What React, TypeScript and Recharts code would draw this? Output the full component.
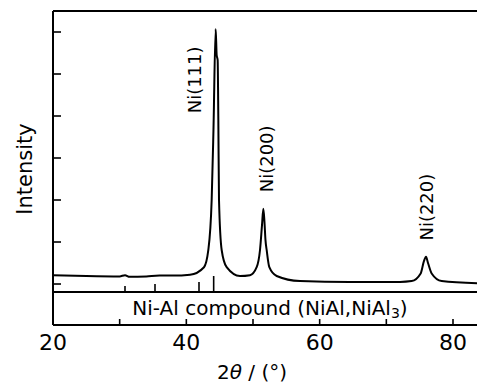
import React from "react";
import {
  ComposedChart,
  Line,
  XAxis,
  YAxis,
  ReferenceLine,
  ReferenceDot,
} from "recharts";

// 2θ (deg) and intensity (arbitrary units, 1 unit = one y tick)
const angle = [
  20, 25, 30, 30.8, 31.5, 34, 36, 38, 40.55, 42.65, 43.3, 43.8, 44.07, 44.4,
  44.55, 44.7, 44.8, 44.9, 45.3, 46.05, 48.05, 49.55, 50.55, 51.05, 51.35,
  51.55, 51.72, 51.87, 52.05, 52.45, 53.55, 57.05, 64.5, 72.05, 73.8, 75.15,
  75.65, 75.95, 76.25, 76.8, 78.3, 83.6,
];
const intensity = [
  0.21, 0.19, 0.18, 0.21, 0.17, 0.18, 0.2, 0.2, 0.22, 0.4, 0.81, 2.0, 3.67,
  6.07, 5.45, 5.33, 3.9, 2.0, 0.81, 0.4, 0.19, 0.21, 0.4, 0.81, 1.4, 1.79,
  1.48, 1.05, 0.81, 0.4, 0.19, 0.07, 0.05, 0.05, 0.07, 0.25, 0.55, 0.65, 0.5,
  0.25, 0.07, 0.02,
];

const xTicks = [20, 30, 40, 50, 60, 70, 80];
const xLabels = [20, 40, 60, 80];
const yTicks = [0, 1, 2, 3, 4, 5, 6];

// Ni-Al compound reference positions and stick heights
const compoundPos = [30.8, 35.3, 41.9, 44.1];
const compoundTop = [-0.05, 0.0, 0.05, 0.19];
const compoundBase = -0.19;

const peakNames = ["Ni(111)", "Ni(200)", "Ni(220)"];
const peakLabelX = [41.3, 52.06, 76.0];
const peakLabelY = [4.86, 2.98, 1.83];

const data = angle.map((a, i) => ({ a, v: intensity[i] }));

const FONT = "DejaVu Sans, sans-serif";

const XTick = (props: any) => {
  const { x, y, payload } = props;
  return (
    <g>
      <line x1={x} y1={y} x2={x} y2={y - 6} stroke="#000" strokeWidth={1.6} />
      {xLabels.includes(payload.value) && (
        <text x={x} y={y + 25} textAnchor="middle" fontSize={22} fontFamily={FONT} fill="#000">
          {payload.value}
        </text>
      )}
    </g>
  );
};

const YTick = (props: any) => {
  const { x, y } = props;
  return <line x1={x} y1={y} x2={x + 8} y2={y} stroke="#000" strokeWidth={1.6} />;
};

const rotatedText = (label: string) => (props: any) => {
  const { cx, cy } = props;
  return (
    <text
      x={cx}
      y={cy}
      transform={`rotate(-90, ${cx}, ${cy})`}
      textAnchor="middle"
      dominantBaseline="central"
      fontSize={18}
      fontFamily={FONT}
      fill="#000"
    >
      {label}
    </text>
  );
};

const compoundText = (props: any) => {
  const { cx, cy } = props;
  return (
    <text x={cx} y={cy} textAnchor="middle" dominantBaseline="central" fontSize={20} fontFamily={FONT} fill="#000">
      Ni-Al compound (NiAl,NiAl
      <tspan fontSize={14} dy={5}>3</tspan>
      <tspan dy={-5}>)</tspan>
    </text>
  );
};

export default function App() {
  return (
    <div style={{ position: "fixed", left: 0, top: 0, width: 477, height: 385, overflow: "hidden", background: "#fff" }}>
      <ComposedChart
        width={477}
        height={385}
        data={data}
        margin={{ top: 11, right: 0, left: 0, bottom: 0 }}
      >
        <XAxis
          dataKey="a"
          type="number"
          domain={[20, 83.6]}
          ticks={xTicks}
          allowDataOverflow
          height={60}
          tickSize={0}
          tickMargin={0}
          tick={<XTick />}
          axisLine={{ stroke: "#000", strokeWidth: 2 }}
          label={{
            content: (p: any) => {
              const vb = p.viewBox;
              return (
                <text x={vb.x + 199} y={vb.y + 54} textAnchor="middle" fontSize={20} fontFamily={FONT} fill="#000">
                  2<tspan fontStyle="italic">θ</tspan> / (°)
                </text>
              );
            },
          }}
        />
        <YAxis
          type="number"
          domain={[-0.976, 6.5]}
          ticks={yTicks}
          allowDataOverflow
          width={53}
          tickSize={0}
          tickMargin={0}
          tick={<YTick />}
          axisLine={{ stroke: "#000", strokeWidth: 2 }}
          label={{
            content: (p: any) => {
              const vb = p.viewBox;
              const cx = vb.x + 25;
              const cy = vb.y + vb.height / 2 + 1;
              return (
                <text
                  x={cx}
                  y={cy}
                  transform={`rotate(-90, ${cx}, ${cy})`}
                  textAnchor="middle"
                  dominantBaseline="central"
                  fontSize={21}
                  fontFamily={FONT}
                  fill="#000"
                >
                  Intensity
                </text>
              );
            },
          }}
        />
        <ReferenceLine y={6.5} stroke="#000" strokeWidth={2} />
        <ReferenceLine y={compoundBase} stroke="#000" strokeWidth={2} />
        {compoundPos.map((p, i) => (
          <ReferenceLine
            key={p}
            segment={[
              { x: p, y: compoundBase },
              { x: p, y: compoundTop[i] },
            ]}
            stroke="#000"
            strokeWidth={1.6}
          />
        ))}
        <ReferenceDot x={52.55} y={-0.58} r={0} shape={compoundText} ifOverflow="visible" />
        {peakNames.map((n, i) => (
          <ReferenceDot
            key={n}
            x={peakLabelX[i]}
            y={peakLabelY[i]}
            r={0}
            shape={rotatedText(n)}
            ifOverflow="visible"
          />
        ))}
        <Line
          type="monotone"
          dataKey="v"
          stroke="#000"
          strokeWidth={2}
          dot={false}
          isAnimationActive={false}
        />
      </ComposedChart>
    </div>
  );
}
